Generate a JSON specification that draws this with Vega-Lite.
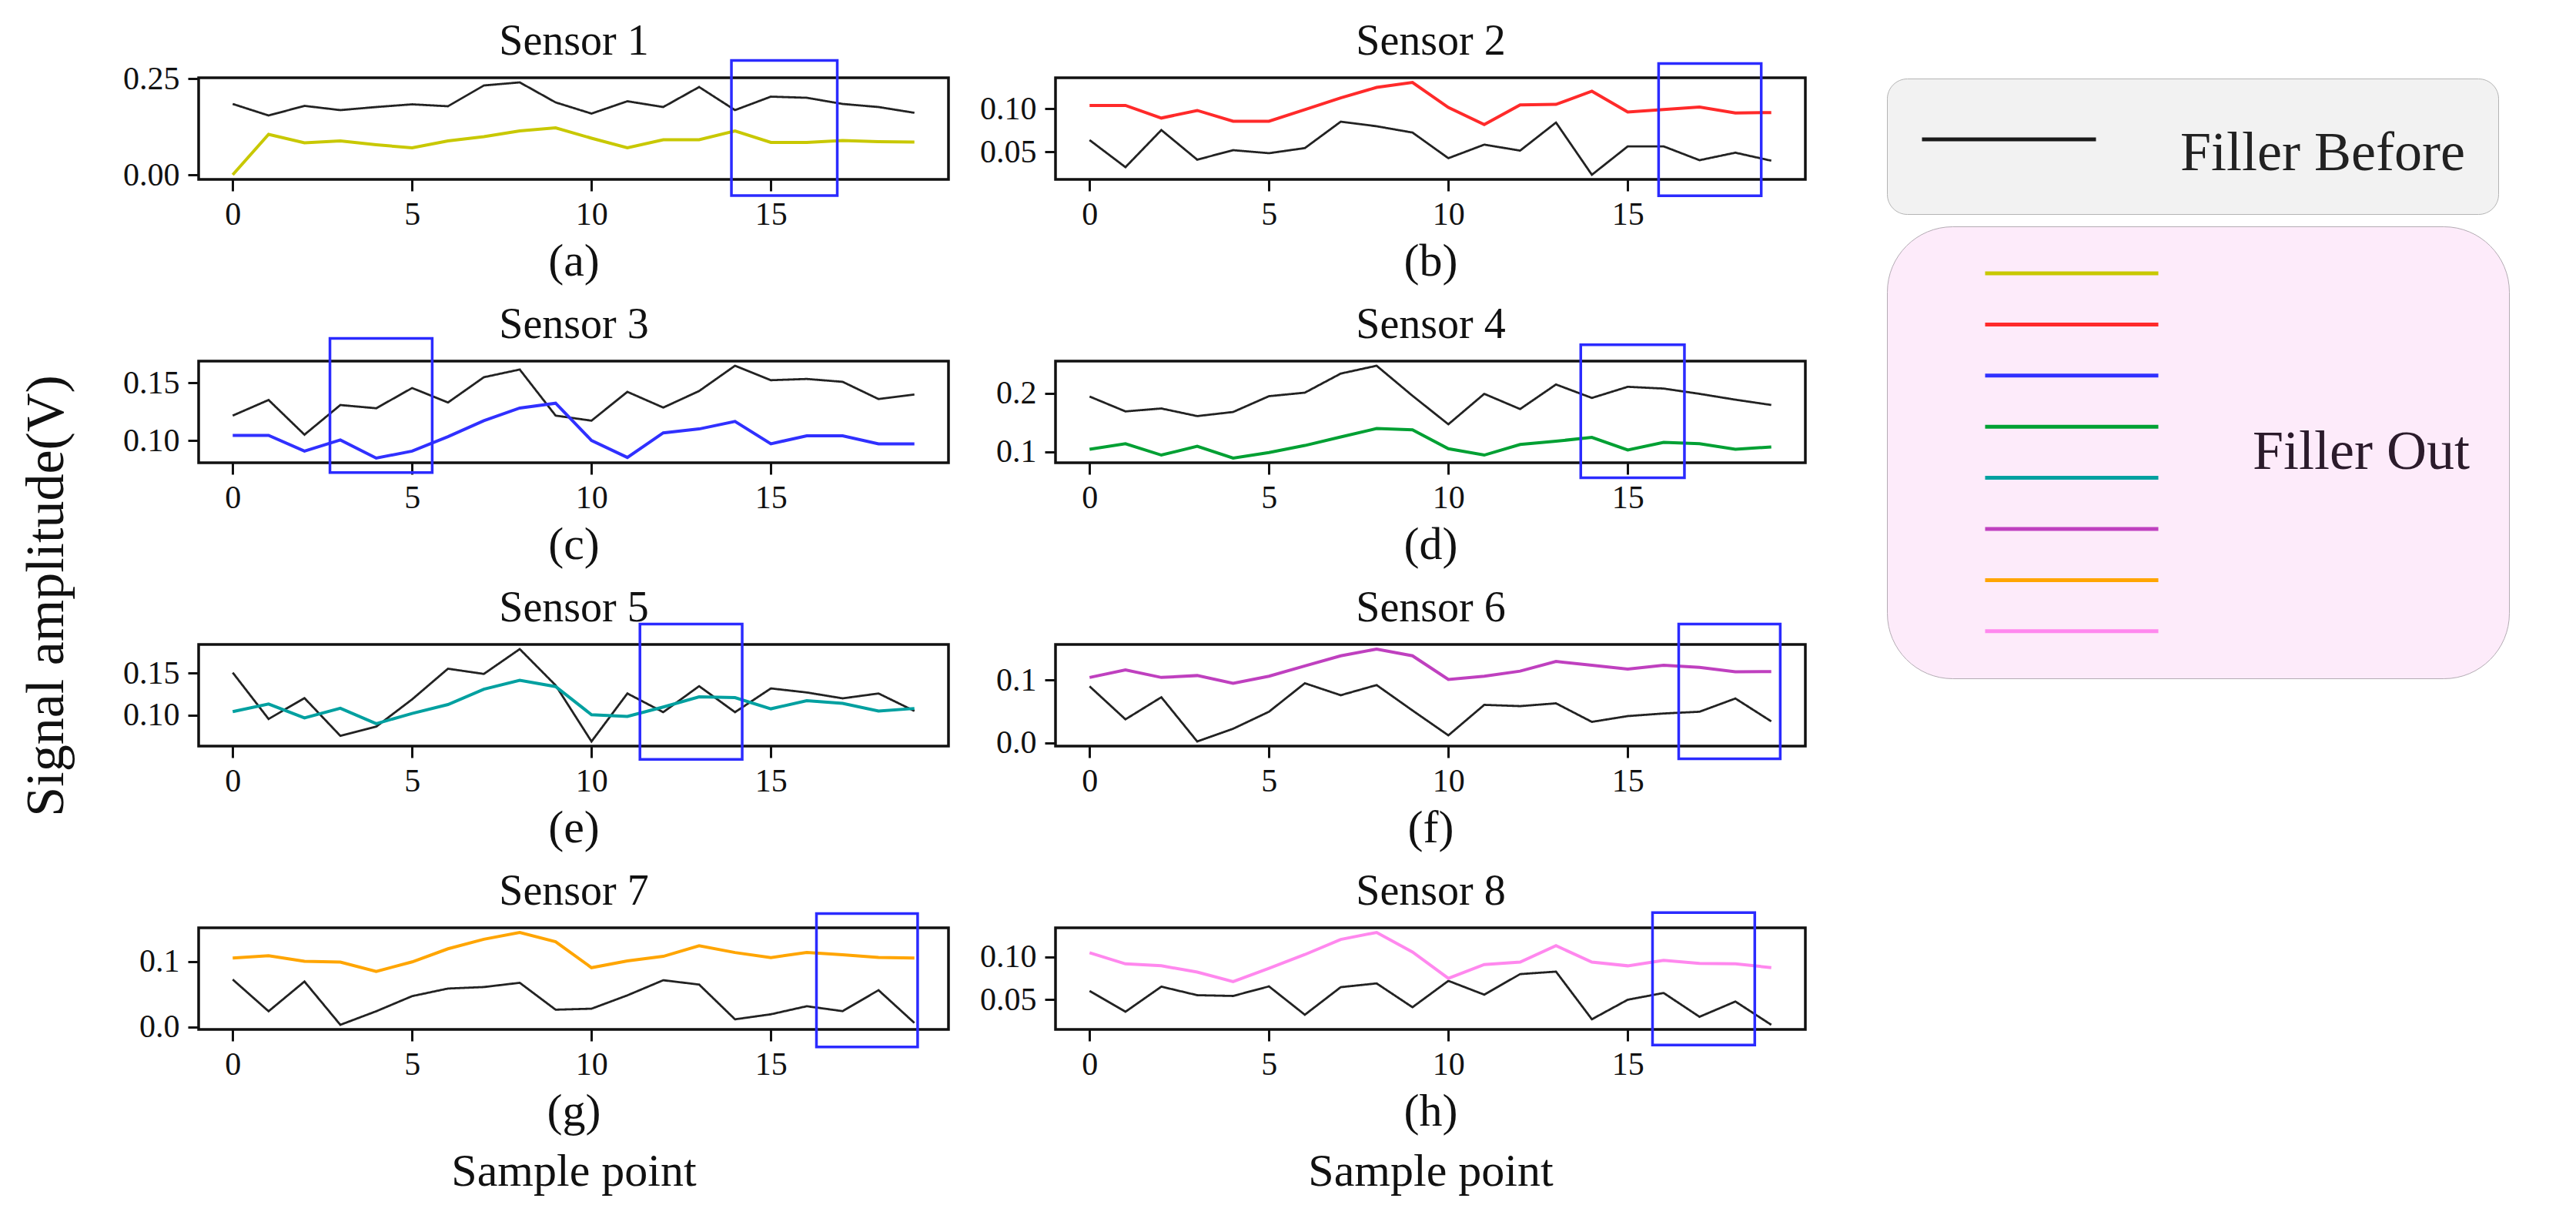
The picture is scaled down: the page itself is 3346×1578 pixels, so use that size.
{
"$schema":"https://vega.github.io/schema/vega-lite/v6.json",
"padding":{"left":25,"top":23,"right":10,"bottom":10},
"background":"white",
"title":{"text":"Signal amplitude(V)","orient":"left","anchor":"middle","fontSize":70,"offset":61,"dx":14,"font":"Liberation Serif","fontWeight":"normal","color":"#111111"},
"datasets":{
"sig":[
{"s":1,"i":0,"before":0.184,"out":0.0},{"s":1,"i":1,"before":0.154,"out":0.105},{"s":1,"i":2,"before":0.179,"out":0.083},{"s":1,"i":3,"before":0.168,"out":0.088},{"s":1,"i":4,"before":0.176,"out":0.078},{"s":1,"i":5,"before":0.183,"out":0.070},{"s":1,"i":6,"before":0.178,"out":0.088},{"s":1,"i":7,"before":0.232,"out":0.099},{"s":1,"i":8,"before":0.240,"out":0.114},{"s":1,"i":9,"before":0.188,"out":0.122},{"s":1,"i":10,"before":0.159,"out":0.095},{"s":1,"i":11,"before":0.191,"out":0.070},{"s":1,"i":12,"before":0.176,"out":0.091},{"s":1,"i":13,"before":0.228,"out":0.091},{"s":1,"i":14,"before":0.168,"out":0.114},{"s":1,"i":15,"before":0.203,"out":0.084},{"s":1,"i":16,"before":0.200,"out":0.084},{"s":1,"i":17,"before":0.184,"out":0.089},{"s":1,"i":18,"before":0.176,"out":0.086},{"s":1,"i":19,"before":0.161,"out":0.085},
{"s":2,"i":0,"before":0.0637,"out":0.1038},{"s":2,"i":1,"before":0.0323,"out":0.1038},{"s":2,"i":2,"before":0.0753,"out":0.0892},{"s":2,"i":3,"before":0.041,"out":0.098},{"s":2,"i":4,"before":0.052,"out":0.0855},{"s":2,"i":5,"before":0.0485,"out":0.0855},{"s":2,"i":6,"before":0.0544,"out":0.099},{"s":2,"i":7,"before":0.085,"out":0.1125},{"s":2,"i":8,"before":0.0797,"out":0.1247},{"s":2,"i":9,"before":0.0724,"out":0.1305},{"s":2,"i":10,"before":0.0427,"out":0.1015},{"s":2,"i":11,"before":0.0584,"out":0.0817},{"s":2,"i":12,"before":0.0515,"out":0.1044},{"s":2,"i":13,"before":0.084,"out":0.105},{"s":2,"i":14,"before":0.0235,"out":0.1203},{"s":2,"i":15,"before":0.0564,"out":0.0962},{"s":2,"i":16,"before":0.0564,"out":0.099},{"s":2,"i":17,"before":0.0404,"out":0.102},{"s":2,"i":18,"before":0.0491,"out":0.095},{"s":2,"i":19,"before":0.0398,"out":0.0956},
{"s":3,"i":0,"before":0.1216,"out":0.1044},{"s":3,"i":1,"before":0.1352,"out":0.1044},{"s":3,"i":2,"before":0.105,"out":0.0907},{"s":3,"i":3,"before":0.1308,"out":0.1004},{"s":3,"i":4,"before":0.128,"out":0.0846},{"s":3,"i":5,"before":0.1456,"out":0.0907},{"s":3,"i":6,"before":0.133,"out":0.1033},{"s":3,"i":7,"before":0.155,"out":0.1172},{"s":3,"i":8,"before":0.1617,"out":0.1282},{"s":3,"i":9,"before":0.1216,"out":0.1324},{"s":3,"i":10,"before":0.1172,"out":0.100},{"s":3,"i":11,"before":0.1423,"out":0.0852},{"s":3,"i":12,"before":0.1286,"out":0.1066},{"s":3,"i":13,"before":0.143,"out":0.110},{"s":3,"i":14,"before":0.165,"out":0.1165},{"s":3,"i":15,"before":0.1524,"out":0.0971},{"s":3,"i":16,"before":0.1535,"out":0.104},{"s":3,"i":17,"before":0.151,"out":0.104},{"s":3,"i":18,"before":0.136,"out":0.097},{"s":3,"i":19,"before":0.140,"out":0.097},
{"s":4,"i":0,"before":0.1944,"out":0.1043},{"s":4,"i":1,"before":0.169,"out":0.1138},{"s":4,"i":2,"before":0.174,"out":0.0944},{"s":4,"i":3,"before":0.161,"out":0.1095},{"s":4,"i":4,"before":0.168,"out":0.0892},{"s":4,"i":5,"before":0.195,"out":0.0987},{"s":4,"i":6,"before":0.201,"out":0.1108},{"s":4,"i":7,"before":0.2336,"out":0.1254},{"s":4,"i":8,"before":0.247,"out":0.1397},{"s":4,"i":9,"before":0.1957,"out":0.1375},{"s":4,"i":10,"before":0.147,"out":0.1052},{"s":4,"i":11,"before":0.199,"out":0.0944},{"s":4,"i":12,"before":0.173,"out":0.1125},{"s":4,"i":13,"before":0.215,"out":0.1181},{"s":4,"i":14,"before":0.192,"out":0.1246},{"s":4,"i":15,"before":0.211,"out":0.103},{"s":4,"i":16,"before":0.208,"out":0.116},{"s":4,"i":17,"before":0.199,"out":0.1138},{"s":4,"i":18,"before":0.189,"out":0.1043},{"s":4,"i":19,"before":0.180,"out":0.1082},
{"s":5,"i":0,"before":0.1506,"out":0.1042},{"s":5,"i":1,"before":0.0955,"out":0.1133},{"s":5,"i":2,"before":0.1203,"out":0.0967},{"s":5,"i":3,"before":0.0755,"out":0.1082},{"s":5,"i":4,"before":0.0864,"out":0.090},{"s":5,"i":5,"before":0.1188,"out":0.1021},{"s":5,"i":6,"before":0.1552,"out":0.1127},{"s":5,"i":7,"before":0.149,"out":0.1309},{"s":5,"i":8,"before":0.1785,"out":0.1415},{"s":5,"i":9,"before":0.1355,"out":0.134},{"s":5,"i":10,"before":0.0688,"out":0.1006},{"s":5,"i":11,"before":0.1258,"out":0.0985},{"s":5,"i":12,"before":0.1036,"out":0.1097},{"s":5,"i":13,"before":0.1345,"out":0.1218},{"s":5,"i":14,"before":0.1036,"out":0.1209},{"s":5,"i":15,"before":0.1318,"out":0.1076},{"s":5,"i":16,"before":0.127,"out":0.1173},{"s":5,"i":17,"before":0.120,"out":0.114},{"s":5,"i":18,"before":0.1258,"out":0.105},{"s":5,"i":19,"before":0.105,"out":0.108},
{"s":6,"i":0,"before":0.0899,"out":0.104},{"s":6,"i":1,"before":0.0375,"out":0.116},{"s":6,"i":2,"before":0.0726,"out":0.104},{"s":6,"i":3,"before":0.0024,"out":0.107},{"s":6,"i":4,"before":0.0226,"out":0.0948},{"s":6,"i":5,"before":0.0496,"out":0.106},{"s":6,"i":6,"before":0.0948,"out":0.1222},{"s":6,"i":7,"before":0.0758,"out":0.1383},{"s":6,"i":8,"before":0.0919,"out":0.149},{"s":6,"i":9,"before":0.0516,"out":0.1383},{"s":6,"i":10,"before":0.0121,"out":0.1008},{"s":6,"i":11,"before":0.0605,"out":0.106},{"s":6,"i":12,"before":0.0585,"out":0.114},{"s":6,"i":13,"before":0.0629,"out":0.1294},{"s":6,"i":14,"before":0.0335,"out":0.1234},{"s":6,"i":15,"before":0.0427,"out":0.1173},{"s":6,"i":16,"before":0.0468,"out":0.1234},{"s":6,"i":17,"before":0.0496,"out":0.120},{"s":6,"i":18,"before":0.0706,"out":0.1129},{"s":6,"i":19,"before":0.0343,"out":0.1133},
{"s":7,"i":0,"before":0.0723,"out":0.105},{"s":7,"i":1,"before":0.0238,"out":0.1085},{"s":7,"i":2,"before":0.0692,"out":0.100},{"s":7,"i":3,"before":0.0031,"out":0.0988},{"s":7,"i":4,"before":0.0238,"out":0.0846},{"s":7,"i":5,"before":0.0469,"out":0.0992},{"s":7,"i":6,"before":0.0585,"out":0.1192},{"s":7,"i":7,"before":0.0608,"out":0.1338},{"s":7,"i":8,"before":0.0673,"out":0.1442},{"s":7,"i":9,"before":0.0262,"out":0.130},{"s":7,"i":10,"before":0.0277,"out":0.0904},{"s":7,"i":11,"before":0.0481,"out":0.1008},{"s":7,"i":12,"before":0.0712,"out":0.1077},{"s":7,"i":13,"before":0.0646,"out":0.1238},{"s":7,"i":14,"before":0.0115,"out":0.1135},{"s":7,"i":15,"before":0.0192,"out":0.1058},{"s":7,"i":16,"before":0.0315,"out":0.1135},{"s":7,"i":17,"before":0.024,"out":0.110},{"s":7,"i":18,"before":0.056,"out":0.106},{"s":7,"i":19,"before":0.006,"out":0.105},
{"s":8,"i":0,"before":0.0603,"out":0.105},{"s":8,"i":1,"before":0.0359,"out":0.092},{"s":8,"i":2,"before":0.0653,"out":0.0897},{"s":8,"i":3,"before":0.0553,"out":0.0824},{"s":8,"i":4,"before":0.0544,"out":0.0712},{"s":8,"i":5,"before":0.0656,"out":0.0868},{"s":8,"i":6,"before":0.0324,"out":0.1029},{"s":8,"i":7,"before":0.0647,"out":0.1206},{"s":8,"i":8,"before":0.0691,"out":0.1288},{"s":8,"i":9,"before":0.0412,"out":0.1059},{"s":8,"i":10,"before":0.0721,"out":0.075},{"s":8,"i":11,"before":0.0559,"out":0.0912},{"s":8,"i":12,"before":0.080,"out":0.0941},{"s":8,"i":13,"before":0.0829,"out":0.1132},{"s":8,"i":14,"before":0.0271,"out":0.0941},{"s":8,"i":15,"before":0.050,"out":0.0897},{"s":8,"i":16,"before":0.0579,"out":0.0962},{"s":8,"i":17,"before":0.030,"out":0.0926},{"s":8,"i":18,"before":0.0479,"out":0.092},{"s":8,"i":19,"before":0.0206,"out":0.0876}
],
"boxes":[
{"s":1,"x1":13.9,"x2":16.85,"y1":-0.054,"y2":0.297},
{"s":2,"x1":15.86,"x2":18.72,"y1":-0.0009,"y2":0.1523},
{"s":3,"x1":2.71,"x2":5.56,"y1":0.072,"y2":0.1888},
{"s":4,"x1":13.69,"x2":16.58,"y1":0.0556,"y2":0.2828},
{"s":5,"x1":11.35,"x2":14.2,"y1":0.0476,"y2":0.2082},
{"s":6,"x1":16.42,"x2":19.25,"y1":-0.025,"y2":0.1887},
{"s":7,"x1":16.27,"x2":19.09,"y1":-0.0308,"y2":0.173},
{"s":8,"x1":15.69,"x2":18.54,"y1":-0.003,"y2":0.152}
]
},
"data":{"name":"sig"},
"columns":2,
"spacing":{"row":20,"column":36},
"concat":[
{"width":974,"height":132,"resolve":{"axis":{"x":"independent"}},"layer":[
{"transform":[{"filter":"datum.s == 1"},{"fold":["before","out"],"as":["kind","v"]},{"filter":"datum.kind == 'before'"}],"mark":{"type":"line","color":"#222222","strokeWidth":2.8},"encoding":{"x":{"field":"i","type":"quantitative","scale":{"domain":[-0.95,19.95],"nice":false,"zero":false},"axis":{"values":[0,5,10,15],"title":"(a)"}},"y":{"field":"v","type":"quantitative","scale":{"domain":[-0.012,0.252],"nice":false,"zero":false},"axis":{"values":[0,0.25],"format":".2f","title":null}},"strokeDash":{"field":"kind","type":"nominal","scale":{"domain":["before"],"range":[[1,0]]},"legend":{"orient":"none","legendX":2193,"legendY":1,"title":null,"labelExpr":"'Filler Before'","labelLimit":0,"symbolType":"stroke","symbolSize":51076,"symbolStrokeWidth":5,"symbolStrokeColor":"#1a1a1a","labelFont":"Liberation Serif","labelFontSize":72,"labelColor":"#222222","labelOffset":107,"labelBaseline":"middle","clipHeight":72,"fillColor":"#f2f2f2","strokeColor":"#b4b4b4","cornerRadius":26,"padding":43,"encode":{"labels":{"update":{"dy":{"value":18}}}}}}}},
{"transform":[{"filter":"datum.s == 1"},{"fold":["before","out"],"as":["kind","v"]},{"filter":"datum.kind == 'out'"}],"mark":{"type":"line","strokeWidth":4},"encoding":{"x":{"field":"i","type":"quantitative","scale":{"domain":[-0.95,19.95],"nice":false,"zero":false},"axis":null},"y":{"field":"v","type":"quantitative","scale":{"domain":[-0.012,0.252],"nice":false,"zero":false},"axis":{"values":[0,0.25],"format":".2f","title":null}},"color":{"field":"s","type":"nominal","scale":{"domain":[1,2,3,4,5,6,7,8],"range":["#c8c800","#ff2a2a","#3030ff","#00a033","#00a0a0","#bf40bf","#ffa500","#ff88ee"]},"legend":{"orient":"none","legendX":2193,"legendY":193,"title":"Filler Out","titleLimit":0,"titleOrient":"right","titleAnchor":"middle","titleBaseline":"middle","titleFont":"Liberation Serif","titleFontSize":72,"titleFontWeight":"normal","titleColor":"#2b1b2b","titlePadding":120,"labelExpr":"''","labelOffset":0,"labelFontSize":10,"symbolType":"stroke","symbolSize":50625,"symbolStrokeWidth":5,"symbolOffset":74,"clipHeight":20,"rowPadding":46.4,"fillColor":"#fdebfa","strokeColor":"#b4acb4","cornerRadius":85,"padding":51}}}},
{"data":{"name":"boxes"},"transform":[{"filter":"datum.s == 1"}],"mark":{"type":"rect","filled":false,"color":"#2b2bff","strokeWidth":3.5},"encoding":{"x":{"field":"x1","type":"quantitative","scale":{"domain":[-0.95,19.95],"nice":false,"zero":false},"axis":{"orient":"top","title":"Sensor 1","ticks":false,"labels":false,"tickSize":0,"titlePadding":31,"titleBaseline":"alphabetic","titleFontSize":56}},"x2":{"field":"x2"},"y":{"field":"y1","type":"quantitative","scale":{"domain":[-0.012,0.252],"nice":false,"zero":false},"axis":{"values":[0,0.25],"format":".2f","title":null}},"y2":{"field":"y2"}}}
]},
{"width":974,"height":132,"resolve":{"axis":{"x":"independent"}},"layer":[
{"transform":[{"filter":"datum.s == 2"},{"fold":["before","out"],"as":["kind","v"]},{"filter":"datum.kind == 'before'"}],"mark":{"type":"line","color":"#222222","strokeWidth":2.8},"encoding":{"x":{"field":"i","type":"quantitative","scale":{"domain":[-0.95,19.95],"nice":false,"zero":false},"axis":{"values":[0,5,10,15],"title":"(b)"}},"y":{"field":"v","type":"quantitative","scale":{"domain":[0.01815,0.13585],"nice":false,"zero":false},"axis":{"values":[0.05,0.1],"format":".2f","title":null}},"strokeDash":{"field":"kind","type":"nominal","scale":{"domain":["before"],"range":[[1,0]]},"legend":{"orient":"none","legendX":2193,"legendY":1,"title":null,"labelExpr":"'Filler Before'","labelLimit":0,"symbolType":"stroke","symbolSize":51076,"symbolStrokeWidth":5,"symbolStrokeColor":"#1a1a1a","labelFont":"Liberation Serif","labelFontSize":72,"labelColor":"#222222","labelOffset":107,"labelBaseline":"middle","clipHeight":72,"fillColor":"#f2f2f2","strokeColor":"#b4b4b4","cornerRadius":26,"padding":43,"encode":{"labels":{"update":{"dy":{"value":18}}}}}}}},
{"transform":[{"filter":"datum.s == 2"},{"fold":["before","out"],"as":["kind","v"]},{"filter":"datum.kind == 'out'"}],"mark":{"type":"line","strokeWidth":4},"encoding":{"x":{"field":"i","type":"quantitative","scale":{"domain":[-0.95,19.95],"nice":false,"zero":false},"axis":null},"y":{"field":"v","type":"quantitative","scale":{"domain":[0.01815,0.13585],"nice":false,"zero":false},"axis":{"values":[0.05,0.1],"format":".2f","title":null}},"color":{"field":"s","type":"nominal","scale":{"domain":[1,2,3,4,5,6,7,8],"range":["#c8c800","#ff2a2a","#3030ff","#00a033","#00a0a0","#bf40bf","#ffa500","#ff88ee"]},"legend":{"orient":"none","legendX":2193,"legendY":193,"title":"Filler Out","titleLimit":0,"titleOrient":"right","titleAnchor":"middle","titleBaseline":"middle","titleFont":"Liberation Serif","titleFontSize":72,"titleFontWeight":"normal","titleColor":"#2b1b2b","titlePadding":120,"labelExpr":"''","labelOffset":0,"labelFontSize":10,"symbolType":"stroke","symbolSize":50625,"symbolStrokeWidth":5,"symbolOffset":74,"clipHeight":20,"rowPadding":46.4,"fillColor":"#fdebfa","strokeColor":"#b4acb4","cornerRadius":85,"padding":51}}}},
{"data":{"name":"boxes"},"transform":[{"filter":"datum.s == 2"}],"mark":{"type":"rect","filled":false,"color":"#2b2bff","strokeWidth":3.5},"encoding":{"x":{"field":"x1","type":"quantitative","scale":{"domain":[-0.95,19.95],"nice":false,"zero":false},"axis":{"orient":"top","title":"Sensor 2","ticks":false,"labels":false,"tickSize":0,"titlePadding":31,"titleBaseline":"alphabetic","titleFontSize":56}},"x2":{"field":"x2"},"y":{"field":"y1","type":"quantitative","scale":{"domain":[0.01815,0.13585],"nice":false,"zero":false},"axis":{"values":[0.05,0.1],"format":".2f","title":null}},"y2":{"field":"y2"}}}
]},
{"width":974,"height":132,"resolve":{"axis":{"x":"independent"}},"layer":[
{"transform":[{"filter":"datum.s == 3"},{"fold":["before","out"],"as":["kind","v"]},{"filter":"datum.kind == 'before'"}],"mark":{"type":"line","color":"#222222","strokeWidth":2.8},"encoding":{"x":{"field":"i","type":"quantitative","scale":{"domain":[-0.95,19.95],"nice":false,"zero":false},"axis":{"values":[0,5,10,15],"title":"(c)"}},"y":{"field":"v","type":"quantitative","scale":{"domain":[0.08058,0.16902],"nice":false,"zero":false},"axis":{"values":[0.1,0.15],"format":".2f","title":null}},"strokeDash":{"field":"kind","type":"nominal","scale":{"domain":["before"],"range":[[1,0]]},"legend":{"orient":"none","legendX":2193,"legendY":1,"title":null,"labelExpr":"'Filler Before'","labelLimit":0,"symbolType":"stroke","symbolSize":51076,"symbolStrokeWidth":5,"symbolStrokeColor":"#1a1a1a","labelFont":"Liberation Serif","labelFontSize":72,"labelColor":"#222222","labelOffset":107,"labelBaseline":"middle","clipHeight":72,"fillColor":"#f2f2f2","strokeColor":"#b4b4b4","cornerRadius":26,"padding":43,"encode":{"labels":{"update":{"dy":{"value":18}}}}}}}},
{"transform":[{"filter":"datum.s == 3"},{"fold":["before","out"],"as":["kind","v"]},{"filter":"datum.kind == 'out'"}],"mark":{"type":"line","strokeWidth":4},"encoding":{"x":{"field":"i","type":"quantitative","scale":{"domain":[-0.95,19.95],"nice":false,"zero":false},"axis":null},"y":{"field":"v","type":"quantitative","scale":{"domain":[0.08058,0.16902],"nice":false,"zero":false},"axis":{"values":[0.1,0.15],"format":".2f","title":null}},"color":{"field":"s","type":"nominal","scale":{"domain":[1,2,3,4,5,6,7,8],"range":["#c8c800","#ff2a2a","#3030ff","#00a033","#00a0a0","#bf40bf","#ffa500","#ff88ee"]},"legend":{"orient":"none","legendX":2193,"legendY":193,"title":"Filler Out","titleLimit":0,"titleOrient":"right","titleAnchor":"middle","titleBaseline":"middle","titleFont":"Liberation Serif","titleFontSize":72,"titleFontWeight":"normal","titleColor":"#2b1b2b","titlePadding":120,"labelExpr":"''","labelOffset":0,"labelFontSize":10,"symbolType":"stroke","symbolSize":50625,"symbolStrokeWidth":5,"symbolOffset":74,"clipHeight":20,"rowPadding":46.4,"fillColor":"#fdebfa","strokeColor":"#b4acb4","cornerRadius":85,"padding":51}}}},
{"data":{"name":"boxes"},"transform":[{"filter":"datum.s == 3"}],"mark":{"type":"rect","filled":false,"color":"#2b2bff","strokeWidth":3.5},"encoding":{"x":{"field":"x1","type":"quantitative","scale":{"domain":[-0.95,19.95],"nice":false,"zero":false},"axis":{"orient":"top","title":"Sensor 3","ticks":false,"labels":false,"tickSize":0,"titlePadding":31,"titleBaseline":"alphabetic","titleFontSize":56}},"x2":{"field":"x2"},"y":{"field":"y1","type":"quantitative","scale":{"domain":[0.08058,0.16902],"nice":false,"zero":false},"axis":{"values":[0.1,0.15],"format":".2f","title":null}},"y2":{"field":"y2"}}}
]},
{"width":974,"height":132,"resolve":{"axis":{"x":"independent"}},"layer":[
{"transform":[{"filter":"datum.s == 4"},{"fold":["before","out"],"as":["kind","v"]},{"filter":"datum.kind == 'before'"}],"mark":{"type":"line","color":"#222222","strokeWidth":2.8},"encoding":{"x":{"field":"i","type":"quantitative","scale":{"domain":[-0.95,19.95],"nice":false,"zero":false},"axis":{"values":[0,5,10,15],"title":"(d)"}},"y":{"field":"v","type":"quantitative","scale":{"domain":[0.08131,0.25489],"nice":false,"zero":false},"axis":{"values":[0.1,0.2],"format":".1f","title":null}},"strokeDash":{"field":"kind","type":"nominal","scale":{"domain":["before"],"range":[[1,0]]},"legend":{"orient":"none","legendX":2193,"legendY":1,"title":null,"labelExpr":"'Filler Before'","labelLimit":0,"symbolType":"stroke","symbolSize":51076,"symbolStrokeWidth":5,"symbolStrokeColor":"#1a1a1a","labelFont":"Liberation Serif","labelFontSize":72,"labelColor":"#222222","labelOffset":107,"labelBaseline":"middle","clipHeight":72,"fillColor":"#f2f2f2","strokeColor":"#b4b4b4","cornerRadius":26,"padding":43,"encode":{"labels":{"update":{"dy":{"value":18}}}}}}}},
{"transform":[{"filter":"datum.s == 4"},{"fold":["before","out"],"as":["kind","v"]},{"filter":"datum.kind == 'out'"}],"mark":{"type":"line","strokeWidth":4},"encoding":{"x":{"field":"i","type":"quantitative","scale":{"domain":[-0.95,19.95],"nice":false,"zero":false},"axis":null},"y":{"field":"v","type":"quantitative","scale":{"domain":[0.08131,0.25489],"nice":false,"zero":false},"axis":{"values":[0.1,0.2],"format":".1f","title":null}},"color":{"field":"s","type":"nominal","scale":{"domain":[1,2,3,4,5,6,7,8],"range":["#c8c800","#ff2a2a","#3030ff","#00a033","#00a0a0","#bf40bf","#ffa500","#ff88ee"]},"legend":{"orient":"none","legendX":2193,"legendY":193,"title":"Filler Out","titleLimit":0,"titleOrient":"right","titleAnchor":"middle","titleBaseline":"middle","titleFont":"Liberation Serif","titleFontSize":72,"titleFontWeight":"normal","titleColor":"#2b1b2b","titlePadding":120,"labelExpr":"''","labelOffset":0,"labelFontSize":10,"symbolType":"stroke","symbolSize":50625,"symbolStrokeWidth":5,"symbolOffset":74,"clipHeight":20,"rowPadding":46.4,"fillColor":"#fdebfa","strokeColor":"#b4acb4","cornerRadius":85,"padding":51}}}},
{"data":{"name":"boxes"},"transform":[{"filter":"datum.s == 4"}],"mark":{"type":"rect","filled":false,"color":"#2b2bff","strokeWidth":3.5},"encoding":{"x":{"field":"x1","type":"quantitative","scale":{"domain":[-0.95,19.95],"nice":false,"zero":false},"axis":{"orient":"top","title":"Sensor 4","ticks":false,"labels":false,"tickSize":0,"titlePadding":31,"titleBaseline":"alphabetic","titleFontSize":56}},"x2":{"field":"x2"},"y":{"field":"y1","type":"quantitative","scale":{"domain":[0.08131,0.25489],"nice":false,"zero":false},"axis":{"values":[0.1,0.2],"format":".1f","title":null}},"y2":{"field":"y2"}}}
]},
{"width":974,"height":132,"resolve":{"axis":{"x":"independent"}},"layer":[
{"transform":[{"filter":"datum.s == 5"},{"fold":["before","out"],"as":["kind","v"]},{"filter":"datum.kind == 'before'"}],"mark":{"type":"line","color":"#222222","strokeWidth":2.8},"encoding":{"x":{"field":"i","type":"quantitative","scale":{"domain":[-0.95,19.95],"nice":false,"zero":false},"axis":{"values":[0,5,10,15],"title":"(e)"}},"y":{"field":"v","type":"quantitative","scale":{"domain":[0.06332,0.18399],"nice":false,"zero":false},"axis":{"values":[0.1,0.15],"format":".2f","title":null}},"strokeDash":{"field":"kind","type":"nominal","scale":{"domain":["before"],"range":[[1,0]]},"legend":{"orient":"none","legendX":2193,"legendY":1,"title":null,"labelExpr":"'Filler Before'","labelLimit":0,"symbolType":"stroke","symbolSize":51076,"symbolStrokeWidth":5,"symbolStrokeColor":"#1a1a1a","labelFont":"Liberation Serif","labelFontSize":72,"labelColor":"#222222","labelOffset":107,"labelBaseline":"middle","clipHeight":72,"fillColor":"#f2f2f2","strokeColor":"#b4b4b4","cornerRadius":26,"padding":43,"encode":{"labels":{"update":{"dy":{"value":18}}}}}}}},
{"transform":[{"filter":"datum.s == 5"},{"fold":["before","out"],"as":["kind","v"]},{"filter":"datum.kind == 'out'"}],"mark":{"type":"line","strokeWidth":4},"encoding":{"x":{"field":"i","type":"quantitative","scale":{"domain":[-0.95,19.95],"nice":false,"zero":false},"axis":null},"y":{"field":"v","type":"quantitative","scale":{"domain":[0.06332,0.18399],"nice":false,"zero":false},"axis":{"values":[0.1,0.15],"format":".2f","title":null}},"color":{"field":"s","type":"nominal","scale":{"domain":[1,2,3,4,5,6,7,8],"range":["#c8c800","#ff2a2a","#3030ff","#00a033","#00a0a0","#bf40bf","#ffa500","#ff88ee"]},"legend":{"orient":"none","legendX":2193,"legendY":193,"title":"Filler Out","titleLimit":0,"titleOrient":"right","titleAnchor":"middle","titleBaseline":"middle","titleFont":"Liberation Serif","titleFontSize":72,"titleFontWeight":"normal","titleColor":"#2b1b2b","titlePadding":120,"labelExpr":"''","labelOffset":0,"labelFontSize":10,"symbolType":"stroke","symbolSize":50625,"symbolStrokeWidth":5,"symbolOffset":74,"clipHeight":20,"rowPadding":46.4,"fillColor":"#fdebfa","strokeColor":"#b4acb4","cornerRadius":85,"padding":51}}}},
{"data":{"name":"boxes"},"transform":[{"filter":"datum.s == 5"}],"mark":{"type":"rect","filled":false,"color":"#2b2bff","strokeWidth":3.5},"encoding":{"x":{"field":"x1","type":"quantitative","scale":{"domain":[-0.95,19.95],"nice":false,"zero":false},"axis":{"orient":"top","title":"Sensor 5","ticks":false,"labels":false,"tickSize":0,"titlePadding":31,"titleBaseline":"alphabetic","titleFontSize":56}},"x2":{"field":"x2"},"y":{"field":"y1","type":"quantitative","scale":{"domain":[0.06332,0.18399],"nice":false,"zero":false},"axis":{"values":[0.1,0.15],"format":".2f","title":null}},"y2":{"field":"y2"}}}
]},
{"width":974,"height":132,"resolve":{"axis":{"x":"independent"}},"layer":[
{"transform":[{"filter":"datum.s == 6"},{"fold":["before","out"],"as":["kind","v"]},{"filter":"datum.kind == 'before'"}],"mark":{"type":"line","color":"#222222","strokeWidth":2.8},"encoding":{"x":{"field":"i","type":"quantitative","scale":{"domain":[-0.95,19.95],"nice":false,"zero":false},"axis":{"values":[0,5,10,15],"title":"(f)"}},"y":{"field":"v","type":"quantitative","scale":{"domain":[-0.00493,0.15633],"nice":false,"zero":false},"axis":{"values":[0,0.1],"format":".1f","title":null}},"strokeDash":{"field":"kind","type":"nominal","scale":{"domain":["before"],"range":[[1,0]]},"legend":{"orient":"none","legendX":2193,"legendY":1,"title":null,"labelExpr":"'Filler Before'","labelLimit":0,"symbolType":"stroke","symbolSize":51076,"symbolStrokeWidth":5,"symbolStrokeColor":"#1a1a1a","labelFont":"Liberation Serif","labelFontSize":72,"labelColor":"#222222","labelOffset":107,"labelBaseline":"middle","clipHeight":72,"fillColor":"#f2f2f2","strokeColor":"#b4b4b4","cornerRadius":26,"padding":43,"encode":{"labels":{"update":{"dy":{"value":18}}}}}}}},
{"transform":[{"filter":"datum.s == 6"},{"fold":["before","out"],"as":["kind","v"]},{"filter":"datum.kind == 'out'"}],"mark":{"type":"line","strokeWidth":4},"encoding":{"x":{"field":"i","type":"quantitative","scale":{"domain":[-0.95,19.95],"nice":false,"zero":false},"axis":null},"y":{"field":"v","type":"quantitative","scale":{"domain":[-0.00493,0.15633],"nice":false,"zero":false},"axis":{"values":[0,0.1],"format":".1f","title":null}},"color":{"field":"s","type":"nominal","scale":{"domain":[1,2,3,4,5,6,7,8],"range":["#c8c800","#ff2a2a","#3030ff","#00a033","#00a0a0","#bf40bf","#ffa500","#ff88ee"]},"legend":{"orient":"none","legendX":2193,"legendY":193,"title":"Filler Out","titleLimit":0,"titleOrient":"right","titleAnchor":"middle","titleBaseline":"middle","titleFont":"Liberation Serif","titleFontSize":72,"titleFontWeight":"normal","titleColor":"#2b1b2b","titlePadding":120,"labelExpr":"''","labelOffset":0,"labelFontSize":10,"symbolType":"stroke","symbolSize":50625,"symbolStrokeWidth":5,"symbolOffset":74,"clipHeight":20,"rowPadding":46.4,"fillColor":"#fdebfa","strokeColor":"#b4acb4","cornerRadius":85,"padding":51}}}},
{"data":{"name":"boxes"},"transform":[{"filter":"datum.s == 6"}],"mark":{"type":"rect","filled":false,"color":"#2b2bff","strokeWidth":3.5},"encoding":{"x":{"field":"x1","type":"quantitative","scale":{"domain":[-0.95,19.95],"nice":false,"zero":false},"axis":{"orient":"top","title":"Sensor 6","ticks":false,"labels":false,"tickSize":0,"titlePadding":31,"titleBaseline":"alphabetic","titleFontSize":56}},"x2":{"field":"x2"},"y":{"field":"y1","type":"quantitative","scale":{"domain":[-0.00493,0.15633],"nice":false,"zero":false},"axis":{"values":[0,0.1],"format":".1f","title":null}},"y2":{"field":"y2"}}}
]},
{"width":974,"height":132,"resolve":{"axis":{"x":"independent"}},"layer":[
{"transform":[{"filter":"datum.s == 7"},{"fold":["before","out"],"as":["kind","v"]},{"filter":"datum.kind == 'before'"}],"mark":{"type":"line","color":"#222222","strokeWidth":2.8},"encoding":{"x":{"field":"i","type":"quantitative","scale":{"domain":[-0.95,19.95],"nice":false,"zero":false},"axis":{"values":[0,5,10,15],"title":["(g)","Sample point"]}},"y":{"field":"v","type":"quantitative","scale":{"domain":[-0.00396,0.15126],"nice":false,"zero":false},"axis":{"values":[0,0.1],"format":".1f","title":null}},"strokeDash":{"field":"kind","type":"nominal","scale":{"domain":["before"],"range":[[1,0]]},"legend":{"orient":"none","legendX":2193,"legendY":1,"title":null,"labelExpr":"'Filler Before'","labelLimit":0,"symbolType":"stroke","symbolSize":51076,"symbolStrokeWidth":5,"symbolStrokeColor":"#1a1a1a","labelFont":"Liberation Serif","labelFontSize":72,"labelColor":"#222222","labelOffset":107,"labelBaseline":"middle","clipHeight":72,"fillColor":"#f2f2f2","strokeColor":"#b4b4b4","cornerRadius":26,"padding":43,"encode":{"labels":{"update":{"dy":{"value":18}}}}}}}},
{"transform":[{"filter":"datum.s == 7"},{"fold":["before","out"],"as":["kind","v"]},{"filter":"datum.kind == 'out'"}],"mark":{"type":"line","strokeWidth":4},"encoding":{"x":{"field":"i","type":"quantitative","scale":{"domain":[-0.95,19.95],"nice":false,"zero":false},"axis":null},"y":{"field":"v","type":"quantitative","scale":{"domain":[-0.00396,0.15126],"nice":false,"zero":false},"axis":{"values":[0,0.1],"format":".1f","title":null}},"color":{"field":"s","type":"nominal","scale":{"domain":[1,2,3,4,5,6,7,8],"range":["#c8c800","#ff2a2a","#3030ff","#00a033","#00a0a0","#bf40bf","#ffa500","#ff88ee"]},"legend":{"orient":"none","legendX":2193,"legendY":193,"title":"Filler Out","titleLimit":0,"titleOrient":"right","titleAnchor":"middle","titleBaseline":"middle","titleFont":"Liberation Serif","titleFontSize":72,"titleFontWeight":"normal","titleColor":"#2b1b2b","titlePadding":120,"labelExpr":"''","labelOffset":0,"labelFontSize":10,"symbolType":"stroke","symbolSize":50625,"symbolStrokeWidth":5,"symbolOffset":74,"clipHeight":20,"rowPadding":46.4,"fillColor":"#fdebfa","strokeColor":"#b4acb4","cornerRadius":85,"padding":51}}}},
{"data":{"name":"boxes"},"transform":[{"filter":"datum.s == 7"}],"mark":{"type":"rect","filled":false,"color":"#2b2bff","strokeWidth":3.5},"encoding":{"x":{"field":"x1","type":"quantitative","scale":{"domain":[-0.95,19.95],"nice":false,"zero":false},"axis":{"orient":"top","title":"Sensor 7","ticks":false,"labels":false,"tickSize":0,"titlePadding":31,"titleBaseline":"alphabetic","titleFontSize":56}},"x2":{"field":"x2"},"y":{"field":"y1","type":"quantitative","scale":{"domain":[-0.00396,0.15126],"nice":false,"zero":false},"axis":{"values":[0,0.1],"format":".1f","title":null}},"y2":{"field":"y2"}}}
]},
{"width":974,"height":132,"resolve":{"axis":{"x":"independent"}},"layer":[
{"transform":[{"filter":"datum.s == 8"},{"fold":["before","out"],"as":["kind","v"]},{"filter":"datum.kind == 'before'"}],"mark":{"type":"line","color":"#222222","strokeWidth":2.8},"encoding":{"x":{"field":"i","type":"quantitative","scale":{"domain":[-0.95,19.95],"nice":false,"zero":false},"axis":{"values":[0,5,10,15],"title":["(h)","Sample point"]}},"y":{"field":"v","type":"quantitative","scale":{"domain":[0.01519,0.13421],"nice":false,"zero":false},"axis":{"values":[0.05,0.1],"format":".2f","title":null}},"strokeDash":{"field":"kind","type":"nominal","scale":{"domain":["before"],"range":[[1,0]]},"legend":{"orient":"none","legendX":2193,"legendY":1,"title":null,"labelExpr":"'Filler Before'","labelLimit":0,"symbolType":"stroke","symbolSize":51076,"symbolStrokeWidth":5,"symbolStrokeColor":"#1a1a1a","labelFont":"Liberation Serif","labelFontSize":72,"labelColor":"#222222","labelOffset":107,"labelBaseline":"middle","clipHeight":72,"fillColor":"#f2f2f2","strokeColor":"#b4b4b4","cornerRadius":26,"padding":43,"encode":{"labels":{"update":{"dy":{"value":18}}}}}}}},
{"transform":[{"filter":"datum.s == 8"},{"fold":["before","out"],"as":["kind","v"]},{"filter":"datum.kind == 'out'"}],"mark":{"type":"line","strokeWidth":4},"encoding":{"x":{"field":"i","type":"quantitative","scale":{"domain":[-0.95,19.95],"nice":false,"zero":false},"axis":null},"y":{"field":"v","type":"quantitative","scale":{"domain":[0.01519,0.13421],"nice":false,"zero":false},"axis":{"values":[0.05,0.1],"format":".2f","title":null}},"color":{"field":"s","type":"nominal","scale":{"domain":[1,2,3,4,5,6,7,8],"range":["#c8c800","#ff2a2a","#3030ff","#00a033","#00a0a0","#bf40bf","#ffa500","#ff88ee"]},"legend":{"orient":"none","legendX":2193,"legendY":193,"title":"Filler Out","titleLimit":0,"titleOrient":"right","titleAnchor":"middle","titleBaseline":"middle","titleFont":"Liberation Serif","titleFontSize":72,"titleFontWeight":"normal","titleColor":"#2b1b2b","titlePadding":120,"labelExpr":"''","labelOffset":0,"labelFontSize":10,"symbolType":"stroke","symbolSize":50625,"symbolStrokeWidth":5,"symbolOffset":74,"clipHeight":20,"rowPadding":46.4,"fillColor":"#fdebfa","strokeColor":"#b4acb4","cornerRadius":85,"padding":51}}}},
{"data":{"name":"boxes"},"transform":[{"filter":"datum.s == 8"}],"mark":{"type":"rect","filled":false,"color":"#2b2bff","strokeWidth":3.5},"encoding":{"x":{"field":"x1","type":"quantitative","scale":{"domain":[-0.95,19.95],"nice":false,"zero":false},"axis":{"orient":"top","title":"Sensor 8","ticks":false,"labels":false,"tickSize":0,"titlePadding":31,"titleBaseline":"alphabetic","titleFontSize":56}},"x2":{"field":"x2"},"y":{"field":"y1","type":"quantitative","scale":{"domain":[0.01519,0.13421],"nice":false,"zero":false},"axis":{"values":[0.05,0.1],"format":".2f","title":null}},"y2":{"field":"y2"}}}
]}
],
"config":{
"font":"Liberation Serif",
"view":{"stroke":"#111111","strokeWidth":3.5},
"axis":{"domain":false,"grid":false,"tickColor":"#111111","tickWidth":3,"labelFont":"Liberation Serif","labelFontSize":42,"labelColor":"#111111","titleFont":"Liberation Serif","titleFontWeight":"normal","titleColor":"#111111"},
"axisX":{"tickSize":15,"labelPadding":10,"titleFontSize":60,"titlePadding":11,"titleLineHeight":78},
"axisY":{"tickSize":14,"labelPadding":11}
}
}
